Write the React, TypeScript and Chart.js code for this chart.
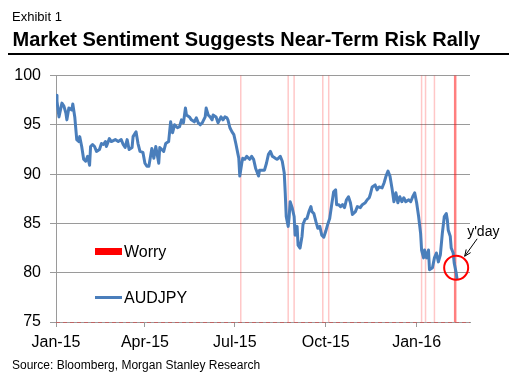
import React, { useEffect, useRef } from "react";
import { Chart, registerables } from "chart.js";

Chart.register(...registerables);

// ---- data ----
const startDate = "2015-01-01";
const axisEndDate = "2016-02-24";

const dates = [
  "2015-01-01","2015-01-02","2015-01-04","2015-01-07","2015-01-09","2015-01-11","2015-01-12","2015-01-14","2015-01-17","2015-01-18",
  "2015-01-20","2015-01-22","2015-01-24","2015-01-25","2015-01-27","2015-01-29","2015-01-31","2015-02-02","2015-02-04","2015-02-05",
  "2015-02-07","2015-02-09","2015-02-11","2015-02-14","2015-02-16","2015-02-18","2015-02-20","2015-02-21","2015-02-24","2015-02-26",
  "2015-03-02","2015-03-05","2015-03-08","2015-03-10","2015-03-12","2015-03-14","2015-03-16","2015-03-19","2015-03-20","2015-03-23",
  "2015-03-25","2015-03-27","2015-03-30","2015-04-01","2015-04-03","2015-04-05","2015-04-08","2015-04-10","2015-04-12","2015-04-15",
  "2015-04-16","2015-04-20","2015-04-22","2015-04-25","2015-04-27","2015-04-29","2015-05-01","2015-05-04","2015-05-06","2015-05-08",
  "2015-05-10","2015-05-12","2015-05-13","2015-05-16","2015-05-18","2015-05-21","2015-05-23","2015-05-25","2015-05-27","2015-05-29",
  "2015-06-01","2015-06-02","2015-06-04","2015-06-06","2015-06-08","2015-06-09","2015-06-12","2015-06-14","2015-06-17","2015-06-19",
  "2015-06-21","2015-06-23","2015-06-24","2015-06-26","2015-06-28","2015-06-30","2015-07-02","2015-07-04","2015-07-05","2015-07-06",
  "2015-07-08","2015-07-09","2015-07-11","2015-07-13","2015-07-16","2015-07-18","2015-07-20","2015-07-22","2015-07-25","2015-07-26",
  "2015-07-29","2015-07-31","2015-08-02","2015-08-04","2015-08-06","2015-08-08","2015-08-11","2015-08-13","2015-08-16","2015-08-18",
  "2015-08-20","2015-08-21","2015-08-22","2015-08-24","2015-08-25","2015-08-26","2015-08-28","2015-08-30","2015-08-31","2015-09-02",
  "2015-09-03","2015-09-05","2015-09-07","2015-09-08","2015-09-10","2015-09-12","2015-09-14","2015-09-16","2015-09-17","2015-09-19",
  "2015-09-21","2015-09-23","2015-09-25","2015-09-27","2015-09-29","2015-10-01","2015-10-03","2015-10-05","2015-10-07","2015-10-09",
  "2015-10-11","2015-10-12","2015-10-14","2015-10-16","2015-10-18","2015-10-20","2015-10-22","2015-10-24","2015-10-26","2015-10-28",
  "2015-10-31","2015-11-02","2015-11-05","2015-11-07","2015-11-10","2015-11-12","2015-11-14","2015-11-15","2015-11-17","2015-11-20",
  "2015-11-22","2015-11-24","2015-11-27","2015-11-29","2015-12-01","2015-12-03","2015-12-05","2015-12-07","2015-12-09","2015-12-11",
  "2015-12-13","2015-12-15","2015-12-17","2015-12-19","2015-12-21","2015-12-24","2015-12-26","2015-12-28","2015-12-30","2016-01-01",
  "2016-01-03","2016-01-05","2016-01-06","2016-01-08","2016-01-09","2016-01-11","2016-01-13","2016-01-14","2016-01-17","2016-01-19",
  "2016-01-21","2016-01-23","2016-01-25","2016-01-27","2016-01-29","2016-01-31","2016-02-01","2016-02-02","2016-02-04","2016-02-05",
  "2016-02-07","2016-02-08","2016-02-10","2016-02-11",
];

const audjpy = [
  98.0, 97.4, 95.8, 97.2, 96.9, 96.2, 95.5, 96.7, 96.5, 97.1,
  95.8, 93.5, 93.3, 93.8, 92.8, 91.5, 91.3, 91.8, 90.9, 92.8,
  93.0, 92.8, 92.3, 92.5, 93.1, 93.0, 93.3, 92.8, 93.6, 93.3,
  93.5, 93.3, 93.5, 93.0, 92.7, 93.5, 92.5, 92.7, 93.8, 94.3,
  93.1, 92.3, 92.2, 91.1, 90.8, 90.8, 92.6, 91.6, 92.8, 91.1,
  92.7, 92.3, 93.1, 93.3, 95.3, 94.2, 95.0, 94.7, 94.8, 95.5,
  95.2, 96.7, 96.0, 95.8, 95.5, 95.3, 95.7, 95.2, 95.0, 95.2,
  95.8, 96.7, 96.0, 95.8, 95.5, 96.0, 95.8, 95.2, 95.8, 95.5,
  95.8, 95.7, 95.5, 94.7, 94.3, 94.0, 93.1, 92.1, 91.6, 89.8,
  91.1, 91.6, 91.5, 91.8, 91.5, 91.8, 91.5, 90.6, 89.8, 90.4,
  90.4, 90.4, 91.1, 92.0, 92.3, 91.8, 91.6, 91.5, 91.8, 91.3,
  90.1, 88.1, 85.7, 84.7, 85.7, 87.2, 86.6, 85.7, 83.8, 84.7,
  82.8, 82.5, 83.7, 84.9, 85.4, 85.5, 86.2, 86.7, 86.2, 86.0,
  85.2, 84.5, 84.7, 83.8, 83.6, 84.2, 84.9, 85.5, 86.9, 88.2,
  88.4, 86.9, 86.9, 86.7, 86.9, 86.6, 87.4, 87.7, 87.1, 85.9,
  86.2, 86.7, 86.6, 86.9, 87.1, 87.4, 87.6, 87.9, 88.7, 88.9,
  88.4, 88.7, 88.6, 89.1, 89.8, 90.3, 89.8, 88.6, 87.2, 88.1,
  87.1, 87.7, 87.2, 87.6, 87.2, 87.4, 87.2, 87.7, 88.1, 87.1,
  85.7, 84.0, 82.3, 81.5, 82.3, 81.5, 82.3, 80.3, 80.5, 81.5,
  82.0, 81.1, 81.8, 84.0, 85.7, 86.0, 85.4, 84.3, 83.7, 82.5,
  82.0, 81.0, 80.0, 79.3,
];

const worryDates = [
  "2015-07-07", "2015-08-24", "2015-08-30", "2015-09-28", "2015-10-04",
  "2016-01-06", "2016-01-10", "2016-01-19", "2016-02-09",
];

const tickDates = ["2015-01-01", "2015-04-01", "2015-07-01", "2015-10-01", "2016-01-01"];
const tickLabels = ["Jan-15", "Apr-15", "Jul-15", "Oct-15", "Jan-16"];

const yMin = 75;
const yMax = 100;
const yStep = 5;

const ydayDate = "2016-02-10";
const ydayValue = 80.5;
const ydayLabel = "y'day";

const titleSmall = "Exhibit 1";
const titleMain = "Market Sentiment Suggests Near-Term Risk Rally";
const sourceText = "Source: Bloomberg, Morgan Stanley Research";
const legendWorry = "Worry";
const legendLine = "AUDJPY";

// ---- helpers ----
const DAY = 86400000;
const dayNum = (s: string) => (Date.parse(s) - Date.parse(startDate)) / DAY;

const FONT = "'Liberation Sans', Arial, sans-serif";
const LINE_BLUE = "#4a7ebb";
const GRID = "#9a9a9a";

const overlayPlugin = {
  id: "overlay",
  beforeDatasetsDraw(chart: any) {
    const { ctx, chartArea, scales } = chart;
    ctx.save();
    worryDates.forEach((d, i) => {
      const x = scales.x.getPixelForValue(dayNum(d));
      const strong = i === worryDates.length - 1;
      ctx.strokeStyle = strong ? "rgba(255,0,0,0.5)" : "rgba(255,0,0,0.22)";
      ctx.lineWidth = strong ? 2.5 : 1.5;
      ctx.beginPath();
      ctx.moveTo(x, chartArea.top);
      ctx.lineTo(x, chartArea.bottom);
      ctx.stroke();
    });
    ctx.restore();
  },
  afterDatasetsDraw(chart: any) {
    const { ctx, chartArea, scales } = chart;
    ctx.save();
    // dashed "worry" baseline along the axis
    ctx.strokeStyle = "rgba(255,0,0,0.35)";
    ctx.lineWidth = 1;
    ctx.setLineDash([4, 3]);
    ctx.beginPath();
    ctx.moveTo(chartArea.left, Math.round(chartArea.bottom) + 0.5);
    ctx.lineTo(chartArea.right, Math.round(chartArea.bottom) + 0.5);
    ctx.stroke();
    ctx.setLineDash([]);

    // y'day circle
    const px = scales.x.getPixelForValue(dayNum(ydayDate));
    const py = scales.y.getPixelForValue(ydayValue);
    ctx.strokeStyle = "#ff0000";
    ctx.lineWidth = 2;
    ctx.beginPath();
    ctx.arc(px, py, 12, 0, Math.PI * 2);
    ctx.stroke();

    // label
    ctx.fillStyle = "#000";
    ctx.font = `14px ${FONT}`;
    ctx.textBaseline = "alphabetic";
    ctx.textAlign = "left";
    ctx.fillText(ydayLabel, px + 11, py - 31.5);

    // arrow
    const x0 = px + 21, y0 = py - 29;
    const x1 = px + 8.5, y1 = py - 11.5;
    ctx.strokeStyle = "#000";
    ctx.lineWidth = 1;
    ctx.beginPath();
    ctx.moveTo(x0, y0);
    ctx.lineTo(x1, y1);
    const ang = Math.atan2(y1 - y0, x1 - x0);
    const hl = 7;
    ctx.moveTo(x1, y1);
    ctx.lineTo(x1 - hl * Math.cos(ang - 0.4), y1 - hl * Math.sin(ang - 0.4));
    ctx.moveTo(x1, y1);
    ctx.lineTo(x1 - hl * Math.cos(ang + 0.4), y1 - hl * Math.sin(ang + 0.4));
    ctx.stroke();
    ctx.restore();
  },
};

export default function App() {
  const canvasRef = useRef<HTMLCanvasElement | null>(null);

  useEffect(() => {
    if (!canvasRef.current) return;
    const points = dates.map((d, i) => ({ x: dayNum(d), y: audjpy[i] }));
    const tickVals = tickDates.map(dayNum);
    const chart = new Chart(canvasRef.current, {
      type: "line",
      data: {
        datasets: [
          {
            label: legendLine,
            data: points,
            borderColor: LINE_BLUE,
            borderWidth: 3,
            pointRadius: 0,
            tension: 0,
            borderJoinStyle: "round",
            fill: false,
          },
        ],
      },
      options: {
        animation: false,
        responsive: false,
        devicePixelRatio: 1,
        layout: { padding: { top: 75.5, right: 54, bottom: 0, left: 0 } },
        plugins: { legend: { display: false }, tooltip: { enabled: false } },
        scales: {
          x: {
            type: "linear",
            min: 0,
            max: dayNum(axisEndDate),
            afterBuildTicks: (scale: any) => {
              scale.ticks = tickVals.map((v) => ({ value: v }));
            },
            afterFit: (scale: any) => {
              scale.height = 62;
            },
            ticks: {
              autoSkip: false,
              maxRotation: 0,
              color: "#000",
              font: { family: FONT, size: 16 },
              padding: 6,
              callback: (v: any) => {
                const idx = tickVals.indexOf(Number(v));
                return idx >= 0 ? tickLabels[idx] : "";
              },
            },
            grid: { drawOnChartArea: false, drawTicks: true, tickLength: 5, color: GRID },
            border: { display: true, color: GRID },
          },
          y: {
            min: yMin,
            max: yMax,
            afterFit: (scale: any) => {
              scale.width = 56;
            },
            ticks: {
              stepSize: yStep,
              color: "#000",
              font: { family: FONT, size: 16 },
              padding: 9,
            },
            grid: { color: GRID, tickLength: 6 },
            border: { display: true, color: GRID },
          },
        },
      },
      plugins: [overlayPlugin],
    } as any);
    return () => chart.destroy();
  }, []);

  const abs = (s: React.CSSProperties): React.CSSProperties => ({ position: "absolute", whiteSpace: "nowrap", ...s });

  return (
    <div style={{ position: "fixed", left: 0, top: 0, width: 524, height: 384, background: "#fff", fontFamily: FONT, color: "#000", overflow: "hidden" }}>
      <canvas ref={canvasRef} width={524} height={384} style={{ position: "absolute", left: 0, top: 0, width: 524, height: 384 }} />
      <div style={abs({ left: 12, top: 9.7, fontSize: 13, lineHeight: "13px" })}>{titleSmall}</div>
      <div style={abs({ left: 12.5, top: 29, fontSize: 20, lineHeight: "20px", fontWeight: "bold" })}>{titleMain}</div>
      <div style={abs({ left: 8, top: 53, width: 501, height: 2, background: "#000" })} />
      <div style={abs({ left: 12, top: 358.8, fontSize: 12, lineHeight: "12px" })}>{sourceText}</div>
      <div style={abs({ left: 95, top: 248, width: 27, height: 7, background: "#ff0000" })} />
      <div style={abs({ left: 124, top: 243.5, fontSize: 16, lineHeight: "16px" })}>{legendWorry}</div>
      <div style={abs({ left: 95, top: 296, width: 27, height: 3, background: LINE_BLUE })} />
      <div style={abs({ left: 124, top: 289.7, fontSize: 16, lineHeight: "16px" })}>{legendLine}</div>
    </div>
  );
}
